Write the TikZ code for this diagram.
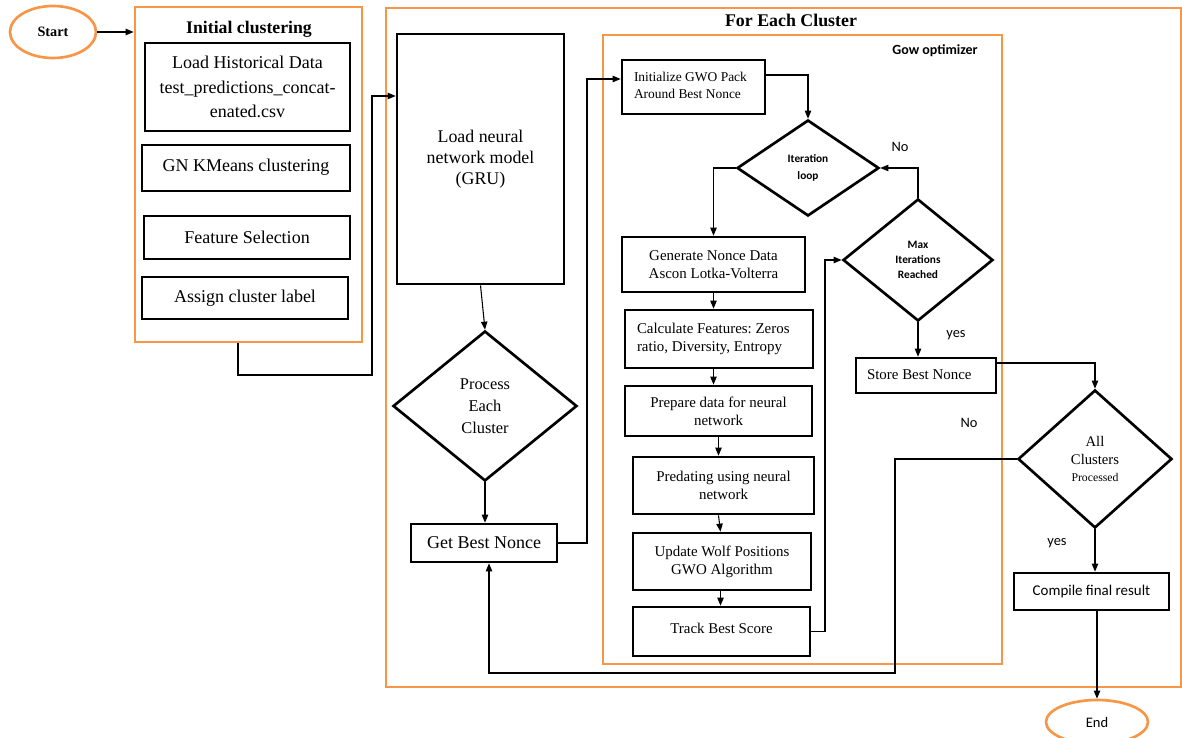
\documentclass[tikz,border=0pt]{standalone}
\usepackage{fontspec}
\setmainfont{Liberation Serif}
\newfontfamily\calibri{Carlito}
\usetikzlibrary{shapes.geometric,arrows.meta}
\definecolor{orng}{RGB}{247,150,70}
\newdimen\upx \upx=0.75pt
\newcommand\myfA{\fontsize{13.5}{18.4}\selectfont}
\newcommand\myfB{\fontsize{11.2}{13.6}\selectfont}
\newcommand\myfC{\fontsize{10.1}{12.8}\selectfont}
\newcommand\lblock[2]{\makebox[#1][l]{\begin{tabular}{@{}l@{}}#2\end{tabular}}}
\frenchspacing
\tikzset{
  box/.style={draw=black, line width=2pt, rectangle, inner sep=0pt, align=center},
  obox/.style={draw=orng, line width=2pt, rectangle, inner sep=0pt},
  dia/.style={diamond, draw=black, line width=2pt, inner sep=0pt, align=center},
  oval/.style={ellipse, draw=orng, line width=2pt, inner sep=0pt},
  conn/.style={draw=black, line width=0.8pt},
  arr/.style={conn, -{Triangle[length=6pt,width=4.8pt]}},
  lbl/.style={font=\calibri\fontsize{10.8}{12}\selectfont, inner sep=0pt},
}
\begin{document}
\begin{tikzpicture}[x=0.75pt,y=-0.75pt]
\useasboundingbox (0,0) rectangle (1182,738);
% containers
\node[obox, minimum width=227\upx, minimum height=335\upx] (initc) at (248.5,174.5) {};
\node[obox, minimum width=795\upx, minimum height=679\upx] (foreach) at (783.5,347.5) {};
\node[obox, minimum width=399\upx, minimum height=629\upx] (gow) at (802.5,349.5) {};
\node[font=\bfseries\fontsize{13.3}{15}\selectfont, inner sep=0pt] (t1) at (249,29) {Initial clustering};
\node[font=\bfseries\fontsize{13.4}{15}\selectfont, inner sep=0pt] (t2) at (791,20) {For Each Cluster};
\node[font=\calibri\bfseries\fontsize{10.5}{12}\selectfont, inner sep=0pt] (t3) at (935,51) {Gow optimizer};
% start / end
\node[oval, minimum width=86\upx, minimum height=52\upx, font=\bfseries\fontsize{10.7}{12}\selectfont] (start) at (53,32) {Start};
\node[oval, minimum width=102\upx, minimum height=44\upx, font=\calibri\fontsize{10.9}{12}\selectfont] (end) at (1097,722) {End};
% initial clustering boxes
\node[box, minimum width=205\upx, minimum height=88\upx, font=\myfA] (load) at (247.5,87) {Load Historical Data\\test\_predictions\_concat-\\enated.csv};
\node[box, minimum width=208\upx, minimum height=46\upx, font=\myfA] (kmeans) at (246,168) {\raisebox{3.5pt}{GN KMeans clustering}};
\node[box, minimum width=206\upx, minimum height=43\upx, font=\myfA] (feat) at (247,237.5) {Feature Selection};
\node[box, minimum width=206\upx, minimum height=42\upx, font=\myfA] (assign) at (245,298) {Assign cluster label};
% for each cluster
\node[box, minimum width=167\upx, minimum height=250\upx, font=\fontsize{13.4}{15.75}\selectfont] (gru) at (480.5,159) {\raisebox{5pt}{\begin{tabular}{@{}c@{}}Load neural\\network model\\(GRU)\end{tabular}}};
\node[dia, minimum width=184\upx, minimum height=150\upx, font=\fontsize{12.3}{16.5}\selectfont] (proc) at (485,406) {Process\\Each\\Cluster};
\node[box, minimum width=146\upx, minimum height=38\upx, font=\myfA] (getbest) at (484,543) {Get Best Nonce};
% gwo
\node[box, minimum width=143\upx, minimum height=54\upx, font=\myfC] (initgwo) at (693.5,87) {\lblock{119\upx}{Initialize GWO Pack\\Around Best Nonce}};
\node[dia, minimum width=142\upx, minimum height=96\upx, font=\calibri\bfseries\fontsize{8.5}{12.75}\selectfont] (iter) at (808,168) {Iteration\\loop};
\node[box, minimum width=183\upx, minimum height=55\upx, font=\myfB] (gen) at (713.5,264.5) {Generate Nonce Data\\Ascon Lotka-Volterra};
\node[box, minimum width=188\upx, minimum height=58\upx, font=\myfB] (calc) at (719,339) {\lblock{164\upx}{Calculate Features: Zeros\\ratio, Diversity, Entropy}};
\node[box, minimum width=187\upx, minimum height=50\upx, font=\myfB] (prep) at (718.5,411) {Prepare data for neural\\network};
\node[box, minimum width=181\upx, minimum height=57\upx, font=\myfB] (pred) at (723.5,485.5) {Predating using neural\\network};
\node[box, minimum width=178\upx, minimum height=57\upx, font=\myfB] (upd) at (722,561.5) {Update Wolf Positions\\GWO Algorithm};
\node[box, minimum width=177\upx, minimum height=49\upx, font=\myfB] (track) at (721.5,631.5) {\raisebox{5pt}{Track Best Score}};
\node[dia, minimum width=150\upx, minimum height=122\upx, font=\calibri\bfseries\fontsize{8.5}{11.25}\selectfont] (max) at (918,260) {Max\\Iterations\\Reached};
\node[box, minimum width=140\upx, minimum height=35\upx, font=\myfB] (store) at (926,375.5) {\lblock{118\upx}{Store Best Nonce}};
\node[dia, minimum width=154\upx, minimum height=138\upx, font=\fontsize{11}{13.2}\selectfont] (all) at (1095,459) {All\\Clusters\\{\fontsize{8.8}{10}\selectfont Processed}};
\node[box, minimum width=155\upx, minimum height=37\upx, font=\calibri\fontsize{11.2}{13}\selectfont] (compile) at (1091.5,591.5) {Compile final result};
% labels
\node[lbl] (no1) at (900,147) {No};
\node[lbl] (yes1) at (956,335) {yes};
\node[lbl] (no2) at (969,423) {No};
\node[lbl] (yes2) at (1057,543) {yes};
% bend coordinates
\coordinate (b1) at (238,375);
\coordinate (b2) at (372,96);
\coordinate (b3) at (587,79);
\coordinate (b4) at (765,75);
\coordinate (b6) at (825,260);
\coordinate (b7) at (996,363);
\coordinate (b8) at (895,673);
\coordinate (b9) at (489,673);
% connectors
\draw[arr] (start.east) -- (initc.west |- start.east);
\draw[arr] (initc.south -| b1) -- (b1) -| (b2) -- (gru.west |- b2);
\draw[arr] (gru.south) -- (proc.north);
\draw[arr] (proc.south) -- (proc.south |- getbest.north);
\draw[arr] (getbest.east) -| (b3) -- (initgwo.west |- b3);
\draw[arr] (initgwo.east |- b4) -| (iter.north);
\draw[arr] (iter.west) -| (gen.north);
\draw[arr] (gen.south) -- (gen.south |- calc.north);
\draw[arr] (calc.south -| gen.south) -- (gen.south |- prep.north);
\draw[arr] (prep.south) -- (prep.south |- pred.north);
\draw[arr] (pred.south -| prep.south) -- ([xshift=1.5pt]prep.south |- upd.north);
\draw[arr] ([xshift=1.5pt]upd.south -| prep.south) -- ([xshift=1.5pt]prep.south |- track.north);
\draw[arr] (track.east) -| (b6) -- (max.west);
\draw[arr] (max.north) |- (iter.east);
\draw[arr] (max.south) -- (max.south |- store.north);
\draw[arr] (store.east |- b7) -| (all.north);
\draw[arr] (all.west) -| (b8) -- (b9) -- (b9 |- getbest.south);
\draw[arr] (all.south) -- (all.south |- compile.north);
\draw[arr] (compile.south -| end.north) -- (end.north);
\end{tikzpicture}
\end{document}
